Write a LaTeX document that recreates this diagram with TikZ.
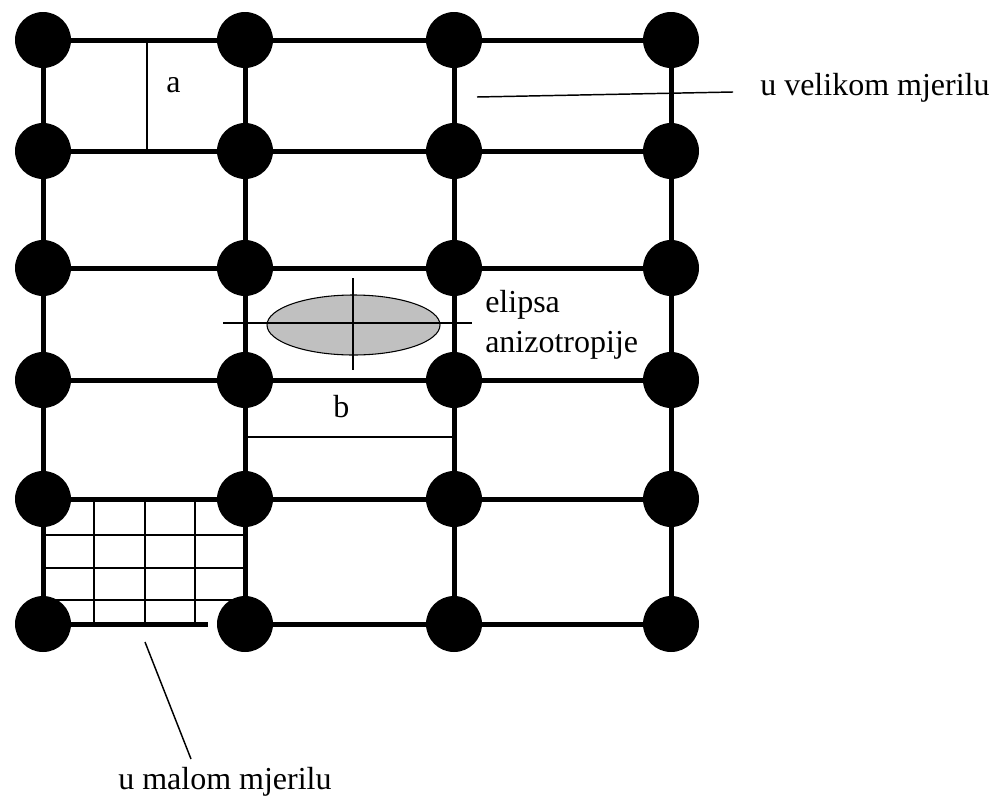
\documentclass[tikz,border=0pt]{standalone}
\usepackage{fontspec}
\setmainfont{Liberation Serif}
\begin{document}
\begin{tikzpicture}[x=0.75pt,y=-0.75pt,
  dot/.style={circle,fill=black,draw=none,minimum size=42pt,inner sep=0pt},
  thickline/.style={line width=3.75pt},
  thinline/.style={line width=1.1pt},
  lbl/.style={inner sep=0pt,font=\fontsize{24}{30}\selectfont}]
\useasboundingbox (0,0) rectangle (999,796);
% dots on a regular grid
\foreach \r/\y in {1/40,2/151,3/268,4/380,5/499,6/624}
  \foreach \c/\x in {1/43,2/245,3/454,4/671}
    \node[dot] (d\r\c) at (\x,\y) {};
% small grid (u malom mjerilu)
\foreach \x in {94,145,195} \draw[thinline] (\x,500) -- (\x,623);
\foreach \y in {535,568,600} \draw[thinline] (43,\y) -- (244,\y);
% thick grid lines
\foreach \r in {1,...,5}{
  \draw[thickline] (d\r1) -- (d\r2);
  \draw[thickline] (d\r2) -- (d\r3);
  \draw[thickline] (d\r3) -- (d\r4);
}
\draw[thickline,shorten >=6.5pt] (d61) -- (d62);
\draw[thickline] (d62) -- (d63);
\draw[thickline] (d63) -- (d64);
\foreach \c in {1,...,4}{
  \foreach \r [evaluate=\r as \rn using int(\r+1)] in {1,...,5}
    \draw[thickline] (d\r\c) -- (d\rn\c);
}
% a
\coordinate (a1) at (147,40);
\coordinate (a2) at (147,151);
\draw[thinline] (a1) -- (a2);
\node[lbl,anchor=base west] (la) at (166,92) {a};
% b
\coordinate (b1) at (247,437);
\coordinate (b2) at (452,437);
\draw[thinline] (b1) -- (b2);
\node[lbl,anchor=base west] (lb) at (333,417) {b};
% ellipse
\draw[line width=0.8pt,fill={rgb,255:red,192;green,192;blue,192}] (353.5,325) ellipse [x radius=86.5, y radius=30];
\coordinate (eh1) at (223,323);
\coordinate (eh2) at (472,323);
\coordinate (ev1) at (353,278);
\coordinate (ev2) at (353,370);
\draw[thinline] (eh1) -- (eh2);
\draw[thinline] (ev1) -- (ev2);
\node[lbl,anchor=base west] (el1) at (485,312) {elipsa};
\node[lbl,anchor=base west] (el2) at (485,352) {anizotropije};
% u velikom mjerilu
\node[lbl,anchor=base west] (vel) at (760,95) {u velikom mjerilu};
\coordinate (v1) at (477,97);
\coordinate (v2) at (733,92);
\draw[thinline] (v1) -- (v2);
% u malom mjerilu
\node[lbl,anchor=base west] (mal) at (118,789) {u malom mjerilu};
\coordinate (m1) at (145,642);
\coordinate (m2) at (191,759);
\draw[thinline] (m1) -- (m2);
\end{tikzpicture}
\end{document}
